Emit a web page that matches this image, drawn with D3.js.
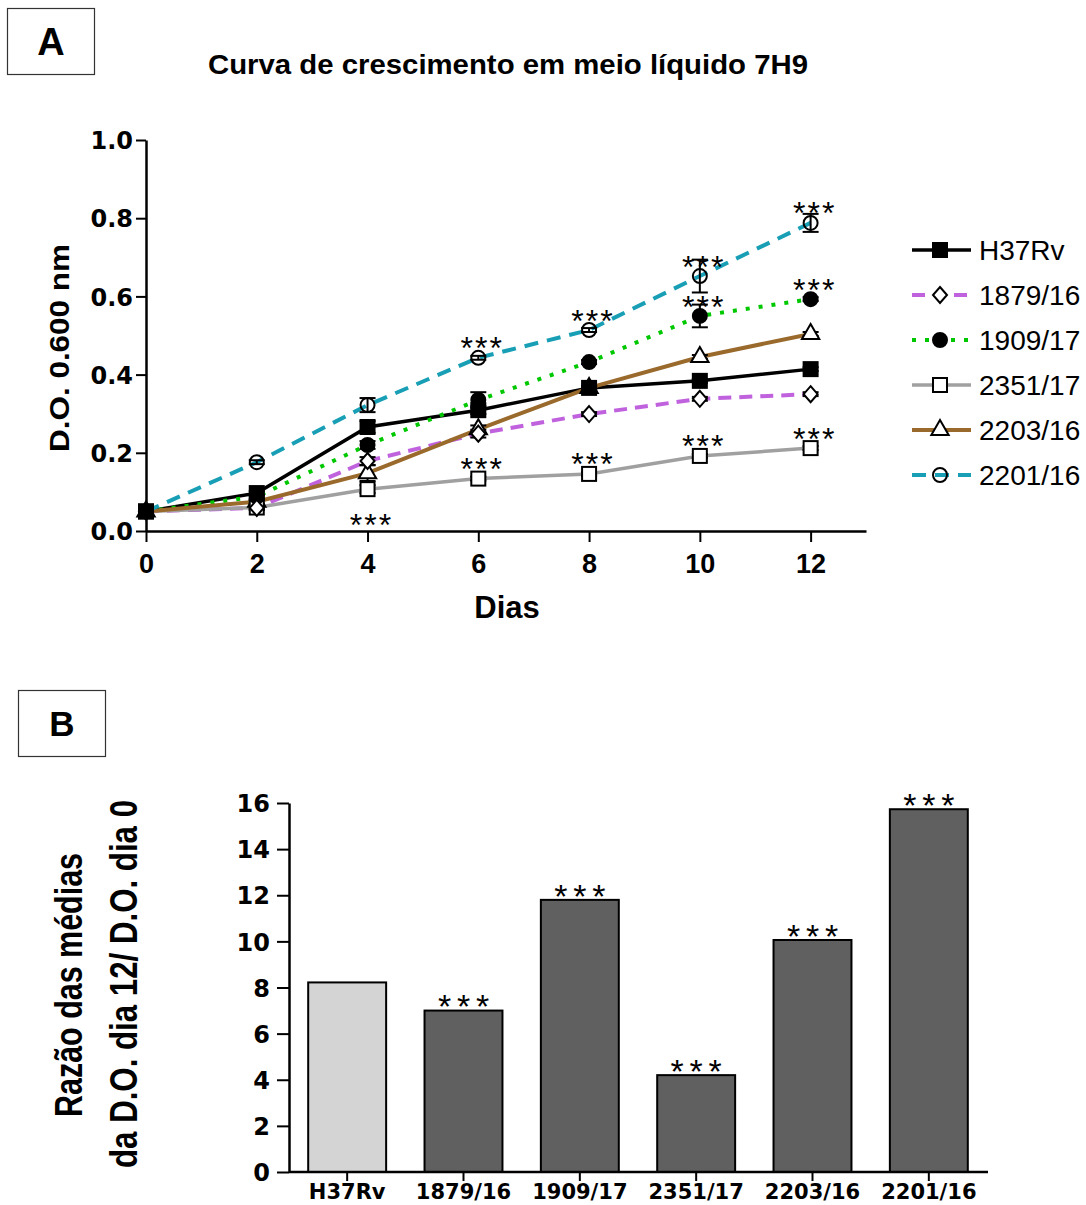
<!DOCTYPE html>
<html>
<head>
<meta charset="utf-8">
<script src="https://cdn.jsdelivr.net/npm/d3@7"></script>
<style>
  body { margin: 0; background: #fff; }
  svg { display: block; font-family: "Liberation Sans", Arial, sans-serif; }
</style>
</head>
<body>
<div class="graph"></div>
<script>
// ---- data ----
var days = [0, 2, 4, 6, 8, 10, 12];
var strains = ['H37Rv', '1879/16', '1909/17', '2351/17', '2203/16', '2201/16'];

var odH37Rv = [0.050, 0.097, 0.266, 0.309, 0.366, 0.384, 0.414];
var od1879  = [0.050, 0.059, 0.179, 0.249, 0.299, 0.338, 0.350];
var od1909  = [0.050, 0.088, 0.220, 0.335, 0.432, 0.550, 0.593];
var od2351  = [0.050, 0.060, 0.107, 0.134, 0.146, 0.192, 0.212];
var od2203  = [0.050, 0.075, 0.148, 0.260, 0.366, 0.445, 0.504];
var od2201  = [0.050, 0.176, 0.322, 0.443, 0.514, 0.652, 0.788];

var sdH37Rv = [0, 0.005, 0.015, 0.010, 0.005, 0.005, 0.005];
var sd1879  = [0, 0.005, 0.010, 0.010, 0.005, 0.005, 0.005];
var sd1909  = [0, 0.005, 0.010, 0.020, 0.005, 0.029, 0.005];
var sd2351  = [0, 0.005, 0.010, 0.005, 0.005, 0.005, 0.005];
var sd2203  = [0, 0.005, 0.020, 0.010, 0.005, 0.005, 0.005];
var sd2201  = [0, 0.005, 0.018, 0.005, 0.005, 0.042, 0.023];

// days with *** (above the point), and below the point
var stars1909 = [10, 12];
var stars2351 = [6, 8, 10, 12];
var stars2351Below = [4];
var stars2201 = [6, 8, 10, 12];

var yTicksA = [0, 0.2, 0.4, 0.6, 0.8, 1.0];
var xTicksA = [0, 2, 4, 6, 8, 10, 12];

// panel B: ratio of mean OD day 12 / day 0
var ratio = [8.22, 7.00, 11.80, 4.20, 10.06, 15.73];
var ratioSig = [false, true, true, true, true, true];
var yTicksB = [0, 2, 4, 6, 8, 10, 12, 14, 16];

// ---- styles per series ----
var series = [
  {name: strains[0], od: odH37Rv, sd: sdH37Rv, color: '#000000', width: 3.5, dash: null, sym: 'square', fill: '#000'},
  {name: strains[1], od: od1879,  sd: sd1879,  color: '#c062dd', width: 4, dash: '13,8', sym: 'diamond', fill: '#fff'},
  {name: strains[2], od: od1909,  sd: sd1909,  color: '#00c800', width: 4, dash: '4,9', sym: 'circle', fill: '#000'},
  {name: strains[3], od: od2351,  sd: sd2351,  color: '#a0a0a0', width: 3.5, dash: null, sym: 'square', fill: '#fff'},
  {name: strains[4], od: od2203,  sd: sd2203,  color: '#9a6a2c', width: 4, dash: null, sym: 'triangle', fill: '#fff'},
  {name: strains[5], od: od2201,  sd: sd2201,  color: '#199fb5', width: 4, dash: '14,9', sym: 'circle', fill: 'none'}
];

var w = 1086, h = 1205;
var svg = d3.select('div.graph').append('svg')
  .attr('width', w).attr('height', h);
svg.append('rect').attr('width', w).attr('height', h).attr('fill', '#fff');

function drawSymbol(g, type, fill) {
  var p;
  if (type === 'square') p = g.append('rect').attr('x', -7).attr('y', -7).attr('width', 14).attr('height', 14);
  else if (type === 'diamond') p = g.append('path').attr('d', 'M0,-8L7,0L0,8L-7,0Z');
  else if (type === 'triangle') p = g.append('path').attr('d', d3.symbol().type(d3.symbolTriangle).size(130)());
  else p = g.append('circle').attr('r', 7);
  p.attr('fill', fill).attr('stroke', '#000').attr('stroke-width', 2);
  return p;
}

// panel label boxes
function panelBox(x, y, bw, bh, label, fs) {
  svg.append('rect').attr('x', x).attr('y', y).attr('width', bw).attr('height', bh)
    .attr('fill', 'none').attr('stroke', '#333').attr('stroke-width', 1.2);
  svg.append('text').attr('x', x + bw / 2).attr('y', y + bh / 2 + fs * 0.36)
    .attr('text-anchor', 'middle').attr('font-weight', 'bold').attr('font-size', fs).text(label);
}
panelBox(7.5, 8.5, 87, 66, 'A', 38);
panelBox(18.5, 690.5, 87, 66, 'B', 35);

/////////////// panel A: growth curve ///////////////
var xA = d3.scaleLinear().domain([0, 13]).range([146, 866]);
var yA = d3.scaleLinear().domain([0, 1]).range([531, 140]);

svg.append('text').attr('x', 508).attr('y', 74).attr('text-anchor', 'middle')
  .attr('font-weight', 'bold').attr('font-size', 28)
  .attr('textLength', 600).attr('lengthAdjust', 'spacingAndGlyphs')
  .text('Curva de crescimento em meio líquido 7H9');

var yAxisA = svg.append('g').attr('transform', 'translate(' + xA(0) + ',0)')
  .call(d3.axisLeft(yA).tickValues(yTicksA).tickFormat(d3.format('.1f')).tickSize(10).tickSizeOuter(0).tickPadding(3));
yAxisA.selectAll('text').attr('font-family', '"DejaVu Sans", sans-serif').attr('font-weight', 'bold').attr('font-size', 24).attr('dy', '0.36em');

var xAxisA = svg.append('g').attr('transform', 'translate(0,' + yA(0) + ')')
  .call(d3.axisBottom(xA).tickValues(xTicksA).tickFormat(d3.format('d')).tickSize(11).tickSizeOuter(0).tickPadding(12));
xAxisA.selectAll('text').attr('font-weight', 'bold').attr('font-size', 27).attr('font-family', '"Liberation Sans", Arial, sans-serif');

[yAxisA, xAxisA].forEach(function(a) {
  a.selectAll('line').attr('stroke', '#000').attr('stroke-width', 2);
  a.select('.domain').attr('stroke', '#000').attr('stroke-width', 2.5);
});

svg.append('text').attr('transform', 'translate(69,348) rotate(-90)').attr('text-anchor', 'middle')
  .attr('font-weight', 'bold').attr('font-size', 28)
  .attr('textLength', 208).attr('lengthAdjust', 'spacingAndGlyphs')
  .text('D.O. 0.600 nm');
svg.append('text').attr('x', 507).attr('y', 618).attr('text-anchor', 'middle')
  .attr('font-weight', 'bold').attr('font-size', 31).text('Dias');

var line = d3.line().x(function(d) { return xA(d.day); }).y(function(d) { return yA(d.v); });

series.forEach(function(s) {
  s.pts = days.map(function(d, i) { return {day: d, v: s.od[i], sd: s.sd[i]}; });
});

// lines
series.forEach(function(s) {
  svg.append('path').datum(s.pts).attr('d', line)
    .attr('fill', 'none').attr('stroke', s.color).attr('stroke-width', s.width)
    .attr('stroke-dasharray', s.dash);
});

// error bars
series.forEach(function(s) {
  var eb = svg.selectAll(null).data(s.pts.filter(function(p) { return p.sd > 0; })).enter().append('g');
  eb.append('line').attr('x1', function(p) { return xA(p.day); }).attr('x2', function(p) { return xA(p.day); })
    .attr('y1', function(p) { return yA(p.v - p.sd); }).attr('y2', function(p) { return yA(p.v + p.sd); });
  eb.append('line').attr('x1', function(p) { return xA(p.day) - 8; }).attr('x2', function(p) { return xA(p.day) + 8; })
    .attr('y1', function(p) { return yA(p.v + p.sd); }).attr('y2', function(p) { return yA(p.v + p.sd); });
  eb.append('line').attr('x1', function(p) { return xA(p.day) - 8; }).attr('x2', function(p) { return xA(p.day) + 8; })
    .attr('y1', function(p) { return yA(p.v - p.sd); }).attr('y2', function(p) { return yA(p.v - p.sd); });
  eb.selectAll('line').attr('stroke', '#000').attr('stroke-width', 2);
});

// markers (H37Rv on top)
series.slice().reverse().forEach(function(s) {
  s.pts.forEach(function(p) {
    var g = svg.append('g').attr('transform', 'translate(' + xA(p.day) + ',' + yA(p.v) + ')');
    drawSymbol(g, s.sym, s.fill);
  });
});

// *** marks
function stars(cx, cy, fs, gap) {
  [-1, 0, 1].forEach(function(k) {
    svg.append('text').attr('x', cx + k * gap).attr('y', cy + fs * 0.58)
      .attr('text-anchor', 'middle').attr('font-size', fs).text('*');
  });
}
function starsFor(s, list, below) {
  list.forEach(function(d) {
    var i = days.indexOf(d);
    var cy = below ? yA(s.od[i]) + 28 : yA(s.od[i]) - 17;
    stars(xA(d) + 3, cy, 32, 14.5);
  });
}
starsFor(series[2], stars1909, false);
starsFor(series[3], stars2351, false);
starsFor(series[3], stars2351Below, true);
starsFor(series[5], stars2201, false);

// legend
var leg = svg.append('g').attr('transform', 'translate(912,250)');
series.forEach(function(s, i) {
  var row = leg.append('g').attr('transform', 'translate(0,' + i * 45 + ')');
  row.append('line').attr('x1', 0).attr('x2', 59).attr('stroke', s.color)
    .attr('stroke-width', s.width).attr('stroke-dasharray', s.dash);
  drawSymbol(row.append('g').attr('transform', 'translate(28,0)'), s.sym, s.fill);
  row.append('text').attr('x', 67).attr('y', 10).attr('font-size', 28).text(s.name);
});

/////////////// panel B: ratio bars ///////////////
var xB = d3.scaleBand().domain(strains).range([289, 987]).paddingInner(0.33).paddingOuter(0.165);
var yB = d3.scaleLinear().domain([0, 16]).range([1172, 803]);

svg.selectAll('.bar').data(strains).enter().append('rect')
  .attr('class', 'bar')
  .attr('x', function(d) { return xB(d); })
  .attr('width', xB.bandwidth())
  .attr('y', function(d, i) { return yB(ratio[i]); })
  .attr('height', function(d, i) { return yB(0) - yB(ratio[i]); })
  .attr('fill', function(d, i) { return i === 0 ? '#d4d4d4' : '#606060'; })
  .attr('stroke', '#000').attr('stroke-width', 2);

strains.forEach(function(d, i) {
  if (ratioSig[i]) stars(xB(d) + xB.bandwidth() / 2, yB(ratio[i]) - 12, 34, 19);
});

var yAxisB = svg.append('g').attr('transform', 'translate(289,0)')
  .call(d3.axisLeft(yB).tickValues(yTicksB).tickSize(12).tickSizeOuter(0).tickPadding(7));
yAxisB.selectAll('text').attr('font-family', '"DejaVu Sans", sans-serif').attr('font-weight', 'bold').attr('font-size', 24).attr('dy', '0.36em');

var xAxisB = svg.append('g').attr('transform', 'translate(0,1172)')
  .call(d3.axisBottom(xB).tickSize(9).tickSizeOuter(0).tickPadding(2));
xAxisB.select('.domain').attr('d', 'M289,0H988');
xAxisB.selectAll('text').attr('font-family', '"DejaVu Sans", sans-serif').attr('font-weight', 'bold').attr('font-size', 21).attr('dy', '0.78em');

[yAxisB, xAxisB].forEach(function(a) {
  a.selectAll('line').attr('stroke', '#000').attr('stroke-width', 2);
  a.select('.domain').attr('stroke', '#000').attr('stroke-width', 2.5);
});

svg.append('text').attr('transform', 'translate(82,985) rotate(-90)').attr('text-anchor', 'middle')
  .attr('font-weight', 'bold').attr('font-size', 38)
  .attr('textLength', 264).attr('lengthAdjust', 'spacingAndGlyphs')
  .text('Razão das médias');
svg.append('text').attr('transform', 'translate(137,984) rotate(-90)').attr('text-anchor', 'middle')
  .attr('font-weight', 'bold').attr('font-size', 38)
  .attr('textLength', 368).attr('lengthAdjust', 'spacingAndGlyphs')
  .text('da D.O. dia 12/ D.O. dia 0');
</script>
</body>
</html>
